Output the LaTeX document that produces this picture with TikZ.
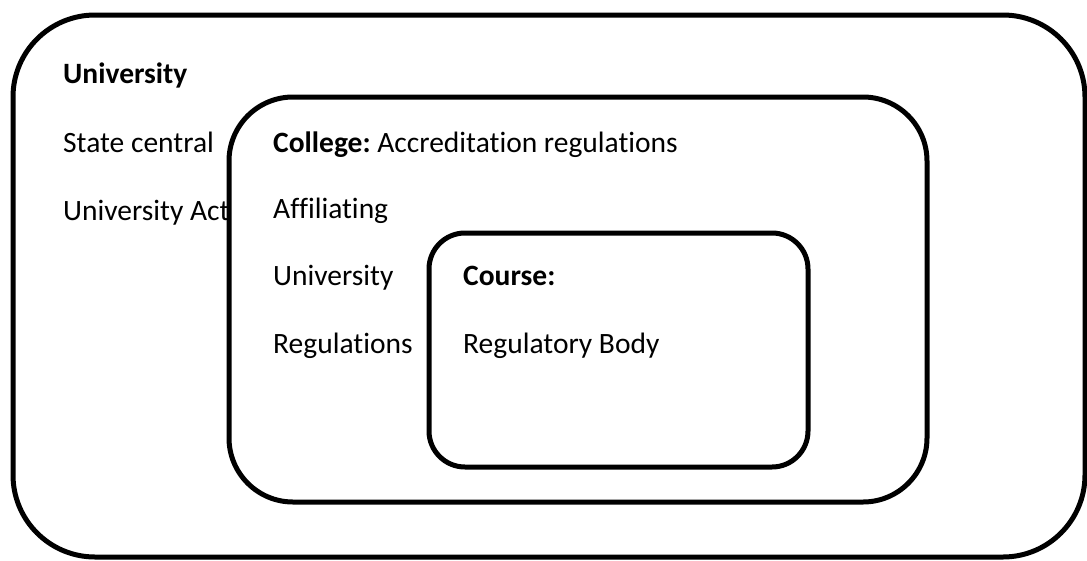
\documentclass[tikz,border=0pt]{standalone}
\usepackage{fontspec}
\setmainfont{Carlito}[RawFeature=-liga]
\usetikzlibrary{positioning}
\frenchspacing

\begin{document}
\begin{tikzpicture}[
        x=1pt, y=-1pt,
        panel/.style={rectangle, draw=black, line width=5pt, fill=white},
        txt/.style={anchor=base west, inner sep=0pt, font=\fontsize{29.5}{35}\selectfont}
    ]
        \useasboundingbox (0,0) rectangle (1087,560);

        % University
        \node[panel, minimum width=1072pt, minimum height=542pt, rounded corners=82pt] (univ) at (549,286) {};
        \node[txt] (univtitle) at (63,83) {\textbf{University}};
        \node[txt] (statecentral) at (63,152) {State central};
        \node[txt] (univact) at (63,220) {University Act};

        % College
        \node[panel, minimum width=698pt, minimum height=405pt, rounded corners=64pt] (college) at (578,299.5) {};
        \node[txt] (collegetitle) at (273,152) {\textbf{College:} Accreditation regulations};
        \node[txt] (affiliating) at (273,218) {Affiliating};
        \node[txt] (affuniv) at (273,285) {University};
        \node[txt] (affregs) at (273,353) {Regulations};

        % Course
        \node[panel, minimum width=379pt, minimum height=234pt, rounded corners=36pt] (course) at (618.5,350) {};
        \node[txt] (coursetitle) at (463,285) {\textbf{Course:}};
        \node[txt] (regbody) at (463,353) {Regulatory Body};
    \end{tikzpicture}
\end{document}
